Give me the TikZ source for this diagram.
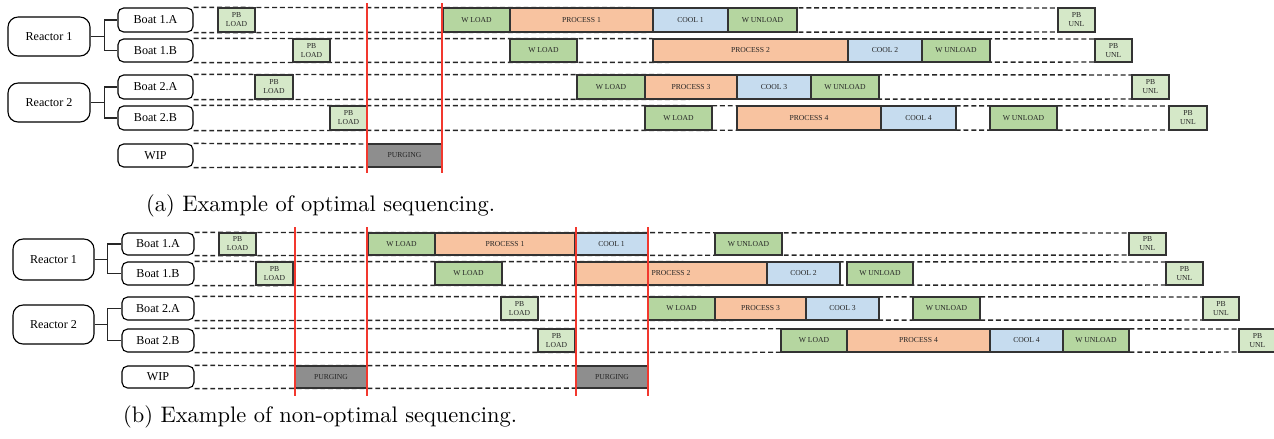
\documentclass[tikz,border=0pt]{standalone}
\usepackage{fontspec}
\newfontfamily\boxfont{Liberation Serif}
\usetikzlibrary{fit, backgrounds}

\definecolor{wgreen}{HTML}{B5D6A0}
\definecolor{pbgreen}{HTML}{D5E8C8}
\definecolor{procorange}{HTML}{F8C3A0}
\definecolor{coolblue}{HTML}{C6DCEF}
\definecolor{purgegray}{HTML}{8E8E8E}
\definecolor{cutred}{HTML}{F2382E}

\begin{document}
\begin{tikzpicture}[
		x = 0.4455pt, % one pixel of the layout
		y = -0.4455pt, % rows go downwards
		semithick % line style
		]
		
		\tikzstyle{task}=[
		draw = black!80,
		line width = 0.6pt,
		inner sep = 0pt,
		outer sep = 0pt
		]
		\tikzstyle{t}=[inner sep = 0pt, align = center, text = black!85, font = \boxfont\fontsize{3.4}{4}\selectfont]
		\tikzstyle{pb}=[task, fill = pbgreen]
		\tikzstyle{wl}=[task, fill = wgreen]
		\tikzstyle{proc}=[task, fill = procorange]
		\tikzstyle{cool}=[task, fill = coolblue]
		\tikzstyle{purge}=[task, fill = purgegray]
		\tikzstyle{unit}=[
		draw = black,
		line width = 0.5pt,
		rounded corners = 2.5pt,
		fill = white,
		inner sep = 0pt
		]
		\tikzstyle{u}=[inner sep = 0pt, font = \boxfont\fontsize{5.4}{6}\selectfont]
		\tikzstyle{reactor}=[unit, rounded corners = 4.5pt]
		\tikzstyle{timeline}=[black!85, line width = 0.65pt, dash pattern = on 2.2pt off 1.3pt]
		\tikzstyle{branch}=[black!85, line width = 0.5pt]
		\tikzstyle{cut}=[cutred, line width = 0.9pt]
		
		\useasboundingbox (0,0) rectangle (1274,438);
		
		% (a) optimal sequencing
		\node[reactor, fit={(8,17) (90,56)}, label={[u]center:Reactor 1}] (r1a) {};
		\node[reactor, fit={(8,83) (90,122)}, label={[u]center:Reactor 2}] (r2a) {};
		\node[unit, fit={(118,8) (193,32)}, label={[u]center:Boat 1.A}] (b1a) {};
		\node[unit, fit={(118,39) (193,62)}, label={[u]center:Boat 1.B}] (b1b) {};
		\node[unit, fit={(118,75) (193,99)}, label={[u]center:Boat 2.A}] (b2a) {};
		\node[unit, fit={(118,106) (193,130)}, label={[u]center:Boat 2.B}] (b2b) {};
		\node[unit, fit={(118,144) (193,167)}, label={[u]center:WIP}] (wipa) {};
		
		\node[pb, fit={(218,8) (255,32)}, label={[t]center:PB\\LOAD}] (pl1a) {};
		\node[wl, fit={(443,8) (510,32)}, label={[t]center:W LOAD}] (wl1a) {};
		\node[proc, fit={(510,8) (653,32)}, label={[t]center:PROCESS 1}] (pr1a) {};
		\node[cool, fit={(653,8) (728,32)}, label={[t]center:COOL 1}] (cl1a) {};
		\node[wl, fit={(728,8) (797,32)}, label={[t]center:W UNLOAD}] (wu1a) {};
		\node[pb, fit={(1058,8) (1095,32)}, label={[t]center:PB\\UNL}] (pu1a) {};
		
		\node[pb, fit={(293,39) (330,62)}, label={[t]center:PB\\LOAD}] (pl1b) {};
		\node[wl, fit={(510,39) (577,62)}, label={[t]center:W LOAD}] (wl1b) {};
		\node[proc, fit={(653,39) (848,62)}, label={[t]center:PROCESS 2}] (pr1b) {};
		\node[cool, fit={(848,39) (922,62)}, label={[t]center:COOL 2}] (cl1b) {};
		\node[wl, fit={(922,39) (990,62)}, label={[t]center:W UNLOAD}] (wu1b) {};
		\node[pb, fit={(1095,39) (1132,62)}, label={[t]center:PB\\UNL}] (pu1b) {};
		
		\node[pb, fit={(255,75) (293,99)}, label={[t]center:PB\\LOAD}] (pl2a) {};
		\node[wl, fit={(577,75) (645,99)}, label={[t]center:W LOAD}] (wl2a) {};
		\node[proc, fit={(645,75) (737,99)}, label={[t]center:PROCESS 3}] (pr2a) {};
		\node[cool, fit={(737,75) (811,99)}, label={[t]center:COOL 3}] (cl2a) {};
		\node[wl, fit={(811,75) (879,99)}, label={[t]center:W UNLOAD}] (wu2a) {};
		\node[pb, fit={(1132,75) (1169,99)}, label={[t]center:PB\\UNL}] (pu2a) {};
		
		\node[pb, fit={(330,106) (367,130)}, label={[t]center:PB\\LOAD}] (pl2b) {};
		\node[wl, fit={(645,106) (712,130)}, label={[t]center:W LOAD}] (wl2b) {};
		\node[proc, fit={(737,106) (881,130)}, label={[t]center:PROCESS 4}] (pr2b) {};
		\node[cool, fit={(881,106) (956,130)}, label={[t]center:COOL 4}] (cl2b) {};
		\node[wl, fit={(990,106) (1057,130)}, label={[t]center:W UNLOAD}] (wu2b) {};
		\node[pb, fit={(1169,106) (1207,130)}, label={[t]center:PB\\UNL}] (pu2b) {};
		
		\node[purge, fit={(367,144) (442,167)}, label={[t]center:PURGING}] (pga) {};
		
		\draw[branch] (r1a.east) -- ++(14,0) coordinate (j1a);
		\draw[branch] (j1a) |- (b1a.west) (j1a) |- (b1b.west);
		\draw[branch] (r2a.east) -- ++(14,0) coordinate (j2a);
		\draw[branch] (j2a) |- (b2a.west) (j2a) |- (b2b.west);
		
		\begin{scope}[on background layer]
		\draw[timeline] (b1a.north east) -- (pu1a.north west) (b1a.south east) -- (pu1a.south west);
		\draw[timeline] (b1b.north east) -- (pu1b.north west) (b1b.south east) -- (pu1b.south west);
		\draw[timeline] (b2a.north east) -- (pu2a.north west) (b2a.south east) -- (pu2a.south west);
		\draw[timeline] (b2b.north east) -- (pu2b.north west) (b2b.south east) -- (pu2b.south west);
		\draw[timeline] (wipa.north east) -- (pga.north west) (wipa.south east) -- (pga.south west);
		\end{scope}
		
		\coordinate (topa) at (0,3);
		\coordinate (bota) at (0,173);
		\draw[cut] (pga.west |- topa) -- (pga.west |- bota);
		\draw[cut] (pga.east |- topa) -- (pga.east |- bota);
		
		\node[anchor=base west] (capa) at (138,211) {(a) Example of optimal sequencing.};
		
		% (b) non-optimal sequencing
		\node[reactor, fit={(13,239) (94,280)}, label={[u]center:Reactor 1}] (r1b) {};
		\node[reactor, fit={(13,305) (94,344)}, label={[u]center:Reactor 2}] (r2b) {};
		\node[unit, fit={(122,233) (194,255)}, label={[u]center:Boat 1.A}] (c1a) {};
		\node[unit, fit={(122,262) (194,285)}, label={[u]center:Boat 1.B}] (c1b) {};
		\node[unit, fit={(122,297) (194,320)}, label={[u]center:Boat 2.A}] (c2a) {};
		\node[unit, fit={(122,329) (194,352)}, label={[u]center:Boat 2.B}] (c2b) {};
		\node[unit, fit={(122,366) (194,388)}, label={[u]center:WIP}] (wipb) {};
		
		\node[pb, fit={(219,233) (256,255)}, label={[t]center:PB\\LOAD}] (ql1a) {};
		\node[wl, fit={(368,233) (435,255)}, label={[t]center:W LOAD}] (vl1a) {};
		\node[proc, fit={(435,233) (575,255)}, label={[t]center:PROCESS 1}] (qr1a) {};
		\node[cool, fit={(575,233) (648,255)}, label={[t]center:COOL 1}] (dl1a) {};
		\node[wl, fit={(715,233) (782,255)}, label={[t]center:W UNLOAD}] (vu1a) {};
		\node[pb, fit={(1129,233) (1166,255)}, label={[t]center:PB\\UNL}] (qu1a) {};
		
		\node[pb, fit={(256,262) (293,285)}, label={[t]center:PB\\LOAD}] (ql1b) {};
		\node[wl, fit={(435,262) (502,285)}, label={[t]center:W LOAD}] (vl1b) {};
		\node[proc, fit={(575,262) (767,285)}, label={[t]center:PROCESS 2}] (qr1b) {};
		\node[cool, fit={(767,262) (840,285)}, label={[t]center:COOL 2}] (dl1b) {};
		\node[wl, fit={(847,262) (913,285)}, label={[t]center:W UNLOAD}] (vu1b) {};
		\node[pb, fit={(1166,262) (1203,285)}, label={[t]center:PB\\UNL}] (qu1b) {};
		
		\node[pb, fit={(501,297) (538,320)}, label={[t]center:PB\\LOAD}] (ql2a) {};
		\node[wl, fit={(648,297) (715,320)}, label={[t]center:W LOAD}] (vl2a) {};
		\node[proc, fit={(715,297) (806,320)}, label={[t]center:PROCESS 3}] (qr2a) {};
		\node[cool, fit={(806,297) (879,320)}, label={[t]center:COOL 3}] (dl2a) {};
		\node[wl, fit={(913,297) (980,320)}, label={[t]center:W UNLOAD}] (vu2a) {};
		\node[pb, fit={(1203,297) (1239,320)}, label={[t]center:PB\\UNL}] (qu2a) {};
		
		\node[pb, fit={(538,329) (575,352)}, label={[t]center:PB\\LOAD}] (ql2b) {};
		\node[wl, fit={(781,329) (847,352)}, label={[t]center:W LOAD}] (vl2b) {};
		\node[proc, fit={(847,329) (990,352)}, label={[t]center:PROCESS 4}] (qr2b) {};
		\node[cool, fit={(990,329) (1063,352)}, label={[t]center:COOL 4}] (dl2b) {};
		\node[wl, fit={(1063,329) (1129,352)}, label={[t]center:W UNLOAD}] (vu2b) {};
		\node[pb, fit={(1239,329) (1276,352)}, label={[t]center:PB\\UNL}] (qu2b) {};
		
		\node[purge, fit={(295,366) (367,388)}, label={[t]center:PURGING}] (pg1b) {};
		\node[purge, fit={(576,366) (648,388)}, label={[t]center:PURGING}] (pg2b) {};
		
		\draw[branch] (r1b.east) -- ++(13,0) coordinate (j1b);
		\draw[branch] (j1b) |- (c1a.west) (j1b) |- (c1b.west);
		\draw[branch] (r2b.east) -- ++(13,0) coordinate (j2b);
		\draw[branch] (j2b) |- (c2a.west) (j2b) |- (c2b.west);
		
		\begin{scope}[on background layer]
		\draw[timeline] (c1a.north east) -- (qu1a.north west) (c1a.south east) -- (qu1a.south west);
		\draw[timeline] (c1b.north east) -- (qu1b.north west) (c1b.south east) -- (qu1b.south west);
		\draw[timeline] (c2a.north east) -- (qu2a.north west) (c2a.south east) -- (qu2a.south west);
		\draw[timeline] (c2b.north east) -- (qu2b.north west) (c2b.south east) -- (qu2b.south west);
		\draw[timeline] (wipb.north east) -- (pg2b.north east) (wipb.south east) -- (pg2b.south east);
		\end{scope}
		
		\coordinate (topb) at (0,227);
		\coordinate (botb) at (0,396);
		\draw[cut] (pg1b.west |- topb) -- (pg1b.west |- botb);
		\draw[cut] (pg1b.east |- topb) -- (pg1b.east |- botb);
		\draw[cut] (pg2b.west |- topb) -- (pg2b.west |- botb);
		\draw[cut] (pg2b.east |- topb) -- (pg2b.east |- botb);
		
		\node[anchor=base west] (capb) at (115,422) {(b) Example of non-optimal sequencing.};
		
		\end{tikzpicture}
\end{document}
